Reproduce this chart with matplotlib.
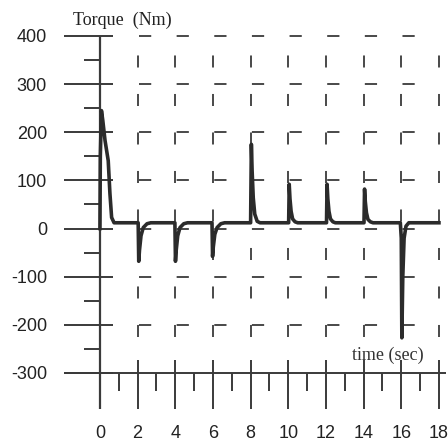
import matplotlib
matplotlib.use("Agg")
import matplotlib.pyplot as plt

# torque trace (time in s, torque in Nm)
time_s = [0.0, 0.02, 0.08, 0.15, 0.27, 0.44, 0.53, 0.62, 0.75,
          2.03, 2.06, 2.10, 2.18, 2.30, 2.50, 2.70,
          3.98, 4.01, 4.05, 4.13, 4.25, 4.45, 4.65,
          5.95, 5.98, 6.02, 6.10, 6.22, 6.42, 6.62,
          8.00, 8.04, 8.08, 8.14, 8.22, 8.35, 8.50,
          10.02, 10.05, 10.09, 10.15, 10.23, 10.36, 10.50,
          12.03, 12.06, 12.10, 12.16, 12.24, 12.37, 12.50,
          14.02, 14.05, 14.09, 14.15, 14.23, 14.36, 14.50,
          15.95, 16.00, 16.03, 16.08, 16.15, 16.25, 16.40, 18.0]
torque = [0, 150, 245, 225, 183, 141, 73, 23, 12,
          12, -68, -45, -15, 2, 10, 12,
          12, -68, -45, -15, 2, 10, 12,
          12, -58, -38, -12, 2, 10, 12,
          12, 175, 120, 64, 30, 15, 12,
          12, 92, 62, 36, 20, 14, 12,
          12, 92, 62, 36, 20, 14, 12,
          12, 82, 56, 33, 19, 14, 12,
          12, -20, -227, -100, -20, 5, 12, 12]

x_major = [0, 2, 4, 6, 8, 10, 12, 14, 16, 18]
x_minor = [1, 3, 5, 7, 9, 11, 13, 15, 17]
y_major = [400, 300, 200, 100, 0, -100, -200, -300]
y_labels = ['400', '300', '200', '100', '0', '-100', '-200', '-300']
y_minor = [350, 250, 150, 50, -50, -150, -250]
grid_x = [2, 4, 6, 8, 10, 12, 14, 16, 18]
grid_y = [400, 300, 200, 100, 0, -100, -200]

ink = '#3a3a3a'
grid_lw = 1.3

fig = plt.figure(figsize=(4.48, 4.46), dpi=100)
ax = fig.add_axes([0.139, 0.0774, 0.8576, 0.8527])
ax.set_xlim(-2.0, 18.4)
ax.set_ylim(-380, 410)
for s in ax.spines.values():
    s.set_visible(False)

# broken grid of the old plotter (dash lengths get scaled by linewidth)
ax.vlines(grid_x, -225, 360, colors=ink, linewidth=grid_lw,
          linestyles=[(0, (8.66 / grid_lw, 19.06 / grid_lw))])
ax.hlines(grid_y, 2.1, 16.8, colors=ink, linewidth=grid_lw,
          linestyles=[(0, (8.8 / grid_lw, 18.3 / grid_lw))])

# axes and their tick marks
ax.vlines([0], -374, 400, colors=ink, linewidth=1.6)
ax.hlines([-300], -1.9, 18.35, colors=ink, linewidth=1.4)
ax.hlines(y_major, -1.9, 0.7, colors=ink, linewidth=1.4)
ax.hlines(y_minor, -0.85, 0, colors=ink, linewidth=1.4)
ax.vlines(x_major[1:], -375, -274, colors=ink, linewidth=1.4)
ax.vlines(x_minor, -337, -300, colors=ink, linewidth=1.4)

ax.plot(time_s, torque, color='#2b2b2b', linewidth=2.6, zorder=5)

ax.set_xticks(x_major, [str(v) for v in x_major])
ax.set_yticks(y_major, y_labels)
ax.tick_params(length=0, labelsize=13, colors='#222222')
ax.tick_params(axis='x', pad=10)
ax.tick_params(axis='y', pad=11)
for lab in ax.get_xticklabels() + ax.get_yticklabels():
    lab.set_family('Liberation Sans')

ax.text(1.17, 432, 'Torque  (Nm)', ha='center', va='center', fontsize=13,
        family='Liberation Serif', color='#222222', clip_on=False)
ax.text(15.3, -264, 'time (sec)', ha='center', va='center', fontsize=13,
        family='Liberation Serif', color='#333333')

fig.savefig('out.png', dpi=100)
